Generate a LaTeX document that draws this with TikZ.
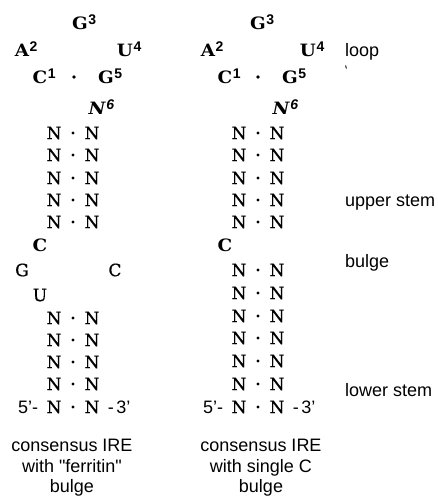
\documentclass[tikz,border=0pt]{standalone}
\usepackage{fontspec}
\usetikzlibrary{positioning}
\newfontfamily\ireMonoFam[FakeStretch=1.08]{DejaVu Serif}
\newfontfamily\ireSerFam[FakeBold=0.6]{DejaVu Serif}
\newfontfamily\ireSansFam{Liberation Sans}
\newcommand\ireMono{\fontsize{17}{17}\ireMonoFam\bfseries}
\newcommand\ireSerif{\fontsize{17}{17}\ireSerFam}
\newcommand\ireSans{\fontsize{18}{20.5}\ireSansFam}
\newcommand\irePrime{\fontsize{18}{18}\ireSansFam}
\newcommand\ireSup[1]{\rlap{\smash{\kern0.5pt\raisebox{5pt}{\fontsize{14}{14}\ireSansFam #1}}}}
\newcommand\ireSupI[1]{\rlap{\smash{\kern1pt\raisebox{5pt}{\fontsize{14}{14}\ireSansFam\itshape #1}}}}
\tikzset{
  mono/.style={font=\ireMono, inner sep=0pt},
  ser/.style={font=\ireSerif, inner sep=0pt},
  pdot/.style={circle, fill=black, inner sep=0pt, minimum size=3.2pt},
  bdot/.style={circle, fill=black, inner sep=0pt, minimum size=3.8pt},
  lbl/.style={font=\ireSans, inner sep=0pt, anchor=west},
  capt/.style={font=\ireSans, inner sep=0pt, align=center},
  prm/.style={font=\irePrime, inner sep=0pt}
}
\begin{document}
\begin{tikzpicture}[x=1pt,y=-1pt]
\useasboundingbox (0,0) rectangle (438,498);
% ---------- left structure ----------
\node[mono] (LG3) at (80,23) {G\ireSup{3}};
\node[mono] (LA2) at (22,50) {A\ireSup{2}};
\node[mono] (LU4) at (125,50) {U\ireSup{4}};
\node[mono] (LC1) at (40,77) {C\ireSup{1}};
\node[bdot] (LD1) at (74,77) {};
\node[mono] (LG5) at (106,77) {G\ireSup{5}};
\node[mono] (LN6) at (97,108) {\itshape N\ireSupI{6}};
\foreach \y [count=\i] in {133,155,178,200,222}{
  \node[ser] (LU\i a) at (54,\y) {N};
  \node[pdot] (LU\i d) at (73,\y) {};
  \node[ser] (LU\i b) at (92,\y) {N};
}
\node[mono] (LBC) at (40,245) {C};
\node[ser] (LBG) at (22,270) {G};
\node[ser] (LBC2) at (115,270) {C};
\node[ser] (LBU) at (40,295) {U};
\foreach \y [count=\i] in {318,340,362,384,407}{
  \node[ser] (LL\i a) at (54,\y) {N};
  \node[pdot] (LL\i d) at (73,\y) {};
  \node[ser] (LL\i b) at (92,\y) {N};
}
\node[prm, left=8pt of LL5a] (L5p) {5’-};
\node[prm, right=8pt of LL5b] (L3p) {-\kern2.5pt3’};
\node[capt] (Lcap) at (72,468) {consensus IRE\\with "ferritin"\\bulge};
% ---------- right structure ----------
\node[mono] (RG3) at (258,23) {G\ireSup{3}};
\node[mono] (RA2) at (208,50) {A\ireSup{2}};
\node[mono] (RU4) at (308,50) {U\ireSup{4}};
\node[mono] (RC1) at (225,77) {C\ireSup{1}};
\node[bdot] (RD1) at (258,77) {};
\node[mono] (RG5) at (290,77) {G\ireSup{5}};
\node[mono] (RN6) at (281,108) {\itshape N\ireSupI{6}};
\foreach \y [count=\i] in {133,155,178,200,222}{
  \node[ser] (RU\i a) at (239,\y) {N};
  \node[pdot] (RU\i d) at (258,\y) {};
  \node[ser] (RU\i b) at (277,\y) {N};
}
\node[mono] (RBC) at (225,245) {C};
\foreach \y [count=\i] in {270,293,316,338,361,384,407}{
  \node[ser] (RL\i a) at (239,\y) {N};
  \node[pdot] (RL\i d) at (258,\y) {};
  \node[ser] (RL\i b) at (277,\y) {N};
}
\node[prm, left=8pt of RL7a] (R5p) {5’-};
\node[prm, right=8pt of RL7b] (R3p) {-\kern2.5pt3’};
\node[capt] (Rcap) at (261,468) {consensus IRE\\with single C\\bulge};
% ---------- labels ----------
\node[lbl] (loop) at (345,52) {loop};
\node[lbl] (upper) at (345,203) {upper stem};
\node[lbl] (bulge) at (345,263) {bulge};
\node[lbl] (lower) at (345,390) {lower stem};
\draw[line width=0.9pt] (345.6,65.5) -- (346.4,68.5);
\end{tikzpicture}
\end{document}
